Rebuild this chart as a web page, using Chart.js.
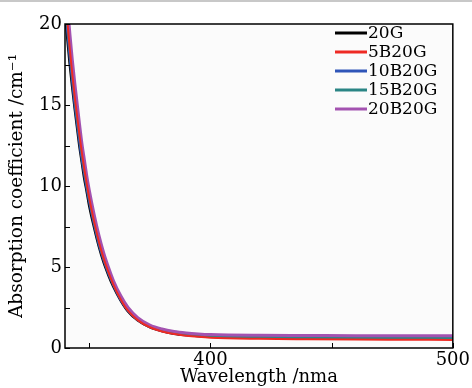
<!DOCTYPE html>
<html><head><meta charset="utf-8">
<script src="https://cdn.jsdelivr.net/npm/chart.js@4"></script>
<style>
html,body{margin:0;padding:0;background:#fff;}
#wrap{width:472px;height:388px;position:relative;}
canvas{display:block;}
</style></head>
<body><div id="wrap"><canvas id="c" width="472" height="388"></canvas></div>
<script>
const wavelengths = [340,341,342,343,344,345,346,347,348,349,350,352,354,356,358,360,363,366,370,375,380,385,390,395,400,420,440,460,480,500];
const s20G    = [21.0,19.2,17.6,16.2,14.9,13.7,12.5,11.5,10.5,9.7,8.85,7.5,6.3,5.3,4.5,3.8,2.95,2.28,1.72,1.3,1.06,0.9,0.81,0.75,0.71,0.66,0.64,0.63,0.62,0.62];
const s5B20G  = [22.0,20.1,18.4,16.9,15.5,14.3,13.1,12.0,11.0,10.1,9.25,7.8,6.55,5.5,4.65,3.9,3.0,2.3,1.72,1.28,1.02,0.86,0.76,0.69,0.64,0.57,0.54,0.52,0.51,0.50];
const s10B20G = [21.5,19.7,18.1,16.6,15.2,14.0,12.8,11.7,10.8,9.9,9.1,7.7,6.45,5.45,4.6,3.9,3.0,2.33,1.75,1.32,1.07,0.92,0.82,0.76,0.72,0.66,0.64,0.63,0.62,0.62];
const s15B20G = [22.2,20.3,18.6,17.1,15.7,14.4,13.2,12.1,11.1,10.2,9.35,7.9,6.65,5.6,4.75,4.0,3.1,2.4,1.8,1.35,1.1,0.95,0.86,0.8,0.76,0.68,0.65,0.64,0.63,0.63];
const s20B20G = [23.2,21.2,19.4,17.8,16.4,15.1,13.8,12.6,11.6,10.6,9.75,8.25,6.95,5.85,4.95,4.15,3.22,2.5,1.88,1.42,1.17,1.02,0.93,0.87,0.83,0.78,0.77,0.76,0.76,0.76];
const seriesNames = ["20G","5B20G","10B20G","15B20G","20B20G"];
const seriesColors = ["#000000","#ee2a24","#2f55b8","#2a8585","#a352b0"];
const seriesWidths = [3,2,3,3,3];
const seriesOrder = [4,0,3,2,1];
const seriesData = [s20G,s5B20G,s10B20G,s15B20G,s20B20G];
const xTickLabels = [400,500];
const xMinorTicks = [350,400,450,500];
const yTickLabels = [0,5,10,15,20];
const yMinorTicks = [2.5,7.5,12.5,17.5];

const FONT = "'DejaVu Serif', 'Liberation Serif', serif";

const datasets = seriesNames.map((n,i)=>({
  label:n,
  data: wavelengths.map((w,j)=>({x:w,y:seriesData[i][j]})),
  borderColor: seriesColors[i],
  backgroundColor: seriesColors[i],
  borderWidth: seriesWidths[i],
  pointRadius: 0,
  cubicInterpolationMode: 'monotone',
  order: seriesOrder[i]
}));

const framePlugin = {
  id:'frame',
  beforeDraw(chart){
    const {ctx, chartArea:a} = chart;
    ctx.save();
    ctx.fillStyle = '#fbfbfb';
    ctx.fillRect(a.left, a.top, a.right-a.left, a.bottom-a.top);
    ctx.fillStyle = '#c8c8c8';
    ctx.fillRect(0,0,472,2);
    ctx.restore();
  },
  afterDraw(chart){
    const {ctx, chartArea:a, scales} = chart;
    ctx.save();
    ctx.strokeStyle = '#000';
    ctx.lineWidth = 1.5;
    ctx.strokeRect(a.left, a.top, a.right-a.left, a.bottom-a.top);
    ctx.lineWidth = 1;
    ctx.beginPath();
    xMinorTicks.forEach(v=>{ const px = Math.round(scales.x.getPixelForValue(v))+0.5; ctx.moveTo(px,a.bottom); ctx.lineTo(px,a.bottom-5); });
    yTickLabels.concat(yMinorTicks).forEach(v=>{ const py = Math.round(scales.y.getPixelForValue(v))+0.5; ctx.moveTo(a.left,py); ctx.lineTo(a.left+5,py); });
    ctx.stroke();
    // legend
    ctx.font = "17px " + FONT;
    ctx.textBaseline = 'middle';
    ctx.textAlign = 'left';
    const x0 = 335, x1 = 367, y0 = 33, dy = 19;
    seriesNames.forEach((n,i)=>{
      const y = y0 + i*dy;
      ctx.strokeStyle = seriesColors[i];
      ctx.lineWidth = 3;
      ctx.beginPath(); ctx.moveTo(x0,y); ctx.lineTo(x1,y); ctx.stroke();
      ctx.fillStyle = '#000';
      ctx.fillText(n, x1+1, y+1);
    });
    ctx.restore();
  }
};

new Chart(document.getElementById('c'), {
  type:'line',
  data:{datasets},
  options:{
    responsive:false,
    animation:false,
    layout:{padding:{top:24,right:12,left:6,bottom:0}},
    plugins:{legend:{display:false},tooltip:{enabled:false}},
    scales:{
      x:{
        type:'linear', min:340, max:500,
        afterBuildTicks(s){ s.ticks = xTickLabels.map(v=>({value:v})); },
        afterFit(s){ s.height = 40; },
        grid:{display:false, drawTicks:false},
        border:{display:false},
        ticks:{color:'#000', font:{family:FONT, size:18}, padding:2, maxRotation:0, autoSkip:false},
        title:{display:true, text:'Wavelength /nma', color:'#000', font:{family:FONT, size:18}, padding:{top:-4,bottom:0}}
      },
      y:{
        type:'linear', min:0, max:20,
        afterBuildTicks(s){ s.ticks = yTickLabels.map(v=>({value:v})); },
        afterFit(s){ s.width = 59; },
        grid:{display:false, drawTicks:false},
        border:{display:false},
        ticks:{color:'#000', font:{family:FONT, size:18}, padding:3},
        title:{display:true, text:'Absorption coefficient /cm\u207B\u00B9', color:'#000', font:{family:FONT, size:18.5}, padding:{top:0,bottom:0}}
      }
    }
  },
  plugins:[framePlugin]
});
</script></body></html>
